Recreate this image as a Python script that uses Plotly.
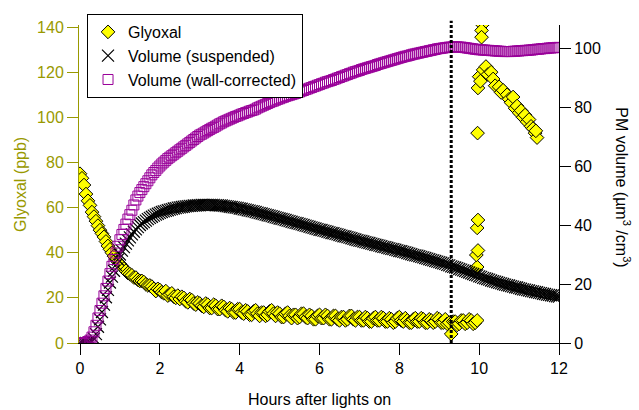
import plotly.graph_objects as go

hours = [
    0.00, 0.05, 0.10, 0.15, 0.20, 0.25, 0.30, 0.35, 0.40, 0.45, 0.50, 0.55, 0.60, 0.65, 0.70, 0.75, 0.80, 0.85, 0.90, 0.95,
    1.00, 1.05, 1.10, 1.15, 1.20, 1.25, 1.30, 1.35, 1.40, 1.45, 1.50, 1.55, 1.60, 1.65, 1.70, 1.75, 1.80, 1.85, 1.90, 1.95,
    2.00, 2.05, 2.10, 2.15, 2.20, 2.25, 2.30, 2.35, 2.40, 2.45, 2.50, 2.55, 2.60, 2.65, 2.70, 2.75, 2.80, 2.85, 2.90, 2.95,
    3.00, 3.05, 3.10, 3.15, 3.20, 3.25, 3.30, 3.35, 3.40, 3.45, 3.50, 3.55, 3.60, 3.65, 3.70, 3.75, 3.80, 3.85, 3.90, 3.95,
    4.00, 4.05, 4.10, 4.15, 4.20, 4.25, 4.30, 4.35, 4.40, 4.45, 4.50, 4.55, 4.60, 4.65, 4.70, 4.75, 4.80, 4.85, 4.90, 4.95,
    5.00, 5.05, 5.10, 5.15, 5.20, 5.25, 5.30, 5.35, 5.40, 5.45, 5.50, 5.55, 5.60, 5.65, 5.70, 5.75, 5.80, 5.85, 5.90, 5.95,
    6.00, 6.05, 6.10, 6.15, 6.20, 6.25, 6.30, 6.35, 6.40, 6.45, 6.50, 6.55, 6.60, 6.65, 6.70, 6.75, 6.80, 6.85, 6.90, 6.95,
    7.00, 7.05, 7.10, 7.15, 7.20, 7.25, 7.30, 7.35, 7.40, 7.45, 7.50, 7.55, 7.60, 7.65, 7.70, 7.75, 7.80, 7.85, 7.90, 7.95,
    8.00, 8.05, 8.10, 8.15, 8.20, 8.25, 8.30, 8.35, 8.40, 8.45, 8.50, 8.55, 8.60, 8.65, 8.70, 8.75, 8.80, 8.85, 8.90, 8.95,
    9.00, 9.05, 9.10, 9.15, 9.20, 9.25, 9.30, 9.35, 9.40, 9.45, 9.50, 9.55, 9.60, 9.65, 9.70, 9.75, 9.80, 9.85, 9.90, 9.95,
    10.00, 10.05, 10.10, 10.15, 10.20, 10.25, 10.30, 10.35, 10.40, 10.45, 10.50, 10.55, 10.60, 10.65, 10.70, 10.75, 10.80, 10.85, 10.90, 10.95,
    11.00, 11.05, 11.10, 11.15, 11.20, 11.25, 11.30, 11.35, 11.40, 11.45, 11.50, 11.55, 11.60, 11.65, 11.70, 11.75, 11.80, 11.85, 11.90, 11.95,
    12.00,
]

# PM volume, wall-corrected (um3/cm3)
vol_wall = [
    0, 0, 0, 0, 0.5, 1, 2, 3.8, 6, 8.5, 11, 13.5, 16, 18.5, 21, 23.5, 26, 28.3, 30.5, 32.8,
    35, 36.8, 38.5, 40.3, 42, 43.5, 45, 46.8, 48.5, 49.8, 51, 52, 53, 54, 55, 56, 57, 57.8, 58.5, 59.3,
    60, 60.7, 61.3, 61.9, 62.5, 63, 63.5, 64, 64.5, 65, 65.5, 66, 66.5, 67, 67.5, 68, 68.5, 69, 69.5, 70,
    70.5, 70.8, 71.2, 71.6, 72, 72.4, 72.8, 73.1, 73.5, 73.9, 74.3, 74.6, 75, 75.3, 75.6, 75.9, 76.2, 76.5, 76.8, 77,
    77.3, 77.6, 77.8, 78.1, 78.3, 78.6, 78.8, 79, 79.3, 79.7, 80, 80.3, 80.6, 80.9, 81.2, 81.5, 81.8, 82, 82.3, 82.6,
    82.8, 83.1, 83.3, 83.6, 83.8, 84, 84.2, 84.4, 84.6, 84.9, 85.1, 85.4, 85.6, 85.9, 86.1, 86.4, 86.6, 86.9, 87.1, 87.4,
    87.6, 87.9, 88.1, 88.4, 88.6, 88.8, 89, 89.3, 89.5, 89.8, 90, 90.3, 90.5, 90.8, 91, 91.3, 91.5, 91.8, 92, 92.2,
    92.4, 92.7, 92.9, 93.1, 93.3, 93.5, 93.7, 93.9, 94.1, 94.4, 94.6, 94.8, 95, 95.2, 95.4, 95.6, 95.8, 96, 96.2, 96.4,
    96.6, 96.8, 97, 97.2, 97.3, 97.5, 97.7, 97.9, 98, 98.2, 98.3, 98.5, 98.6, 98.8, 98.9, 99.1, 99.2, 99.4, 99.5, 99.7,
    99.8, 99.9, 100, 100.1, 100.2, 100.3, 100.3, 100.4, 100.4, 100.4, 100.3, 100.3, 100.2, 100.1, 100, 99.9, 99.8, 99.7, 99.6, 99.5,
    99.4, 99.4, 99.3, 99.3, 99.2, 99.2, 99.1, 99.1, 99, 99, 98.9, 98.9, 98.8, 98.8, 98.8, 98.8, 98.8, 98.9, 98.9, 99,
    99, 99.1, 99.1, 99.2, 99.2, 99.3, 99.3, 99.4, 99.5, 99.6, 99.6, 99.7, 99.8, 99.8, 99.9, 100, 100, 100.1, 100.1, 100.2,
    100.2,
]

# PM volume, suspended (um3/cm3)
vol_susp = [
    0, 0, 0, 0, 0, 0, 0.5, 1.5, 3, 5.5, 8, 10.5, 13, 15.5, 18, 20.5, 22.5, 24.5, 26.5, 28.3,
    30, 31.3, 32.5, 33.7, 34.8, 35.8, 36.8, 37.7, 38.5, 39.3, 40, 40.5, 41, 41.5, 42, 42.4, 42.8, 43.2, 43.5, 43.8,
    44.1, 44.4, 44.6, 44.8, 45, 45.2, 45.4, 45.6, 45.7, 45.9, 46, 46.1, 46.2, 46.3, 46.4, 46.5, 46.5, 46.6, 46.6, 46.7,
    46.7, 46.8, 46.8, 46.8, 46.8, 46.8, 46.8, 46.8, 46.7, 46.7, 46.6, 46.6, 46.5, 46.4, 46.3, 46.2, 46.1, 46, 45.9, 45.8,
    45.6, 45.5, 45.3, 45.2, 45, 44.9, 44.7, 44.6, 44.4, 44.2, 44, 43.9, 43.7, 43.5, 43.3, 43.2, 43, 42.8, 42.6, 42.4,
    42.2, 42.1, 41.9, 41.7, 41.5, 41.3, 41.1, 40.9, 40.7, 40.6, 40.4, 40.2, 40, 39.8, 39.6, 39.4, 39.2, 39, 38.8, 38.6,
    38.4, 38.3, 38.1, 37.9, 37.7, 37.5, 37.3, 37.2, 37, 36.8, 36.6, 36.4, 36.2, 36.1, 35.9, 35.7, 35.5, 35.3, 35.1, 34.9,
    34.7, 34.6, 34.4, 34.2, 34, 33.9, 33.7, 33.5, 33.3, 33.2, 33, 32.8, 32.6, 32.5, 32.3, 32.1, 31.9, 31.8, 31.6, 31.4,
    31.2, 31.1, 30.9, 30.7, 30.5, 30.3, 30.1, 29.9, 29.7, 29.6, 29.4, 29.2, 29, 28.8, 28.6, 28.4, 28.2, 28, 27.8, 27.6,
    27.4, 27.2, 27, 26.8, 26.5, 26.3, 26, 25.8, 25.6, 25.4, 25.1, 24.9, 24.6, 24.4, 24.1, 23.9, 23.6, 23.4, 23.1, 22.9,
    22.6, 22.4, 22.1, 21.9, 21.7, 21.5, 21.2, 21, 20.8, 20.6, 20.4, 20.2, 20, 19.8, 19.6, 19.5, 19.3, 19.1, 18.9, 18.8,
    18.6, 18.4, 18.2, 18.1, 17.9, 17.8, 17.6, 17.5, 17.3, 17.2, 17, 16.9, 16.7, 16.6, 16.4, 16.3, 16.2, 16.1, 15.9, 15.8,
    15.7,
]

# glyoxal (ppb) before 10 h, same 0.05 h grid (0.00 .. 9.95)
glyoxal_early = [
    75, 73, 70, 66, 63, 61, 58, 56, 54, 52, 50, 48.5, 47, 45, 43, 41.5, 40, 38.5, 37, 36,
    35, 34, 33, 32, 31, 30.5, 30, 29, 29, 28, 27.5, 27.5, 27, 26, 25.5, 25.5, 25, 24, 23, 24,
    23.5, 22.5, 22, 23, 21, 21.5, 22, 20.5, 20, 21, 19.5, 20.5, 20, 18.5, 18, 19.5, 19, 17.5, 17, 18,
    17.5, 16.5, 16, 17.5, 17, 15.5, 15.5, 17, 16.5, 15, 15, 16.5, 16, 14.5, 14, 15.5, 15, 13.5, 13.5, 15,
    15, 13.5, 13, 14.5, 14, 12.5, 12.5, 14, 14.5, 13, 12, 13.5, 13.5, 12, 12.5, 14, 14.5, 13, 12, 13.5,
    13, 11.5, 11.5, 13, 13.5, 12, 11, 12.5, 12.5, 11, 11.5, 13, 13, 11.5, 11, 12.5, 12, 10.5, 10.5, 12,
    12.5, 11, 11, 12.5, 12, 10.5, 10.5, 12, 12, 10.5, 10, 11.5, 11.5, 10, 10.5, 12, 12, 10.5, 10, 11.5,
    11.5, 10, 10, 11.5, 11, 9.5, 9.5, 11, 11.5, 10, 10, 11.5, 11, 9.5, 9.5, 11, 10.5, 9, 9.5, 11,
    11.5, 10, 9.5, 11, 10, 9, 9, 10.5, 11, 9.5, 9.5, 11, 10.5, 9, 9, 10.5, 10, 9, 9.5, 11,
    10.5, 9, 9, 10.5, 8.5, 9, 4, 9.5, 9.5, 8, 8.5, 10, 10, 8.5, 9, 10.5, 10, 8.5, 9, 10,
]

# glyoxal (ppb) after ~10 h (irregular times)
glyoxal_late_t = [
    9.95, 9.93, 9.97, 9.95, 9.97, 9.96, 10.08, 10.06, 10.06, 10.0,
    9.97, 10.03, 10.1, 10.17, 10.22, 10.3, 10.35, 10.4, 10.5, 10.55,
    10.6, 10.7, 10.75, 10.8, 10.85, 10.9, 10.95, 11.0, 11.05, 11.1,
    11.15, 11.2, 11.25, 11.3, 11.35, 11.4, 11.45, 11.42,
]
glyoxal_late = [
    33.7, 39, 41, 51, 54.5, 93, 141, 138.5, 135.5, 118,
    113, 116, 121, 122.5, 119, 120, 117, 114, 113.5, 111,
    112, 110, 108, 106.5, 109, 104, 105, 102, 103, 100,
    101, 98, 99, 96, 95, 93, 91, 94,
]

lights_off_hour = 9.3

x_ticks = [0, 2, 4, 6, 8, 10, 12]
left_ticks = [0, 20, 40, 60, 80, 100, 120, 140]
right_ticks = [0, 20, 40, 60, 80, 100]

# ---- styling ----
OLIVE = "#999900"
PURPLE = "#990099"
FONT = "Arial, 'Liberation Sans', sans-serif"

gly_t = hours[:len(glyoxal_early)] + glyoxal_late_t
gly_v = glyoxal_early + glyoxal_late

fig = go.Figure()
fig.add_trace(go.Scatter(
    x=gly_t, y=gly_v, mode="markers", name="Glyoxal",
    marker=dict(symbol="diamond", size=10.5, color="#ffff00",
                line=dict(color="black", width=1)),
    yaxis="y",
))
fig.add_trace(go.Scatter(
    x=hours, y=vol_susp, mode="markers", name="Volume (suspended)",
    marker=dict(symbol="x-thin", size=12, color="black",
                line=dict(color="black", width=1.2)),
    yaxis="y2",
))
fig.add_trace(go.Scatter(
    x=hours, y=vol_wall, mode="markers", name="Volume (wall-corrected)",
    marker=dict(symbol="square-open", size=10, color=PURPLE,
                line=dict(color=PURPLE, width=1)),
    yaxis="y2",
))

fig.add_shape(type="line", xref="x", yref="paper",
              x0=lights_off_hour, x1=lights_off_hour, y0=0, y1=1.013,
              line=dict(color="black", width=3, dash="3px,2px"))

fig.update_layout(
    width=639, height=410,
    margin=dict(l=79, r=80, t=25, b=67),
    paper_bgcolor="white", plot_bgcolor="white",
    font=dict(family=FONT, size=16, color="black"),
    showlegend=True,
    legend=dict(x=0.0167, y=1.0346, xanchor="left", yanchor="top",
                bordercolor="black", borderwidth=1, bgcolor="white",
                font=dict(family=FONT, size=16, color="black"),
                tracegroupgap=0),
    xaxis=dict(range=[-0.025, 12.0], tickvals=x_ticks, ticks="outside",
               ticklen=11, tickcolor="black", showline=True,
               linecolor="black", linewidth=1, showgrid=False,
               zeroline=False, tickfont=dict(size=16, color="black")),
    yaxis=dict(range=[0, 140.9], tickvals=left_ticks, ticks="outside",
               ticklen=11, tickcolor=OLIVE, showline=True, linecolor=OLIVE,
               linewidth=1, showgrid=False, zeroline=False,
               tickfont=dict(size=16, color=OLIVE)),
    yaxis2=dict(range=[0, 107.8], tickvals=right_ticks, ticks="outside",
                ticklen=11, tickcolor="black", showline=True,
                linecolor="black", linewidth=1, showgrid=False,
                zeroline=False, overlaying="y", side="right",
                tickfont=dict(size=16, color="black")),
    annotations=[
        dict(text="Hours after lights on", xref="paper", yref="paper",
             x=0.5, y=-0.179, xanchor="center", yanchor="middle",
             showarrow=False, font=dict(size=16, color="black")),
        dict(text="Glyoxal (ppb)", xref="paper", yref="paper",
             x=-0.123, y=0.5, xanchor="center", yanchor="middle",
             textangle=-90, showarrow=False,
             font=dict(size=16, color=OLIVE)),
        dict(text="PM volume (µm<sup>3</sup> /cm<sup>3</sup>)",
             xref="paper", yref="paper", x=1.133, y=0.49,
             xanchor="center", yanchor="middle", textangle=90,
             showarrow=False, font=dict(size=16, color="black")),
    ],
)

fig.write_html("out.html")
